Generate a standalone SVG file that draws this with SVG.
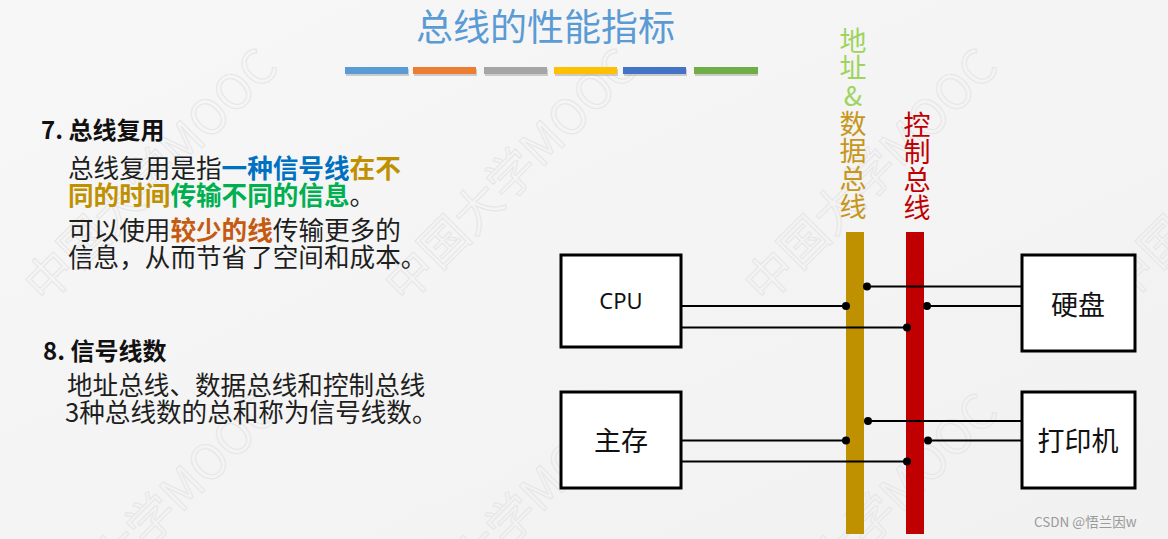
<svg xmlns="http://www.w3.org/2000/svg" width="1168" height="539" viewBox="0 0 1168 539">
<defs>
<linearGradient id="bg" x1="0" y1="0" x2="1" y2="1">
<stop offset="0" stop-color="#f7f7f7"/>
<stop offset="1" stop-color="#f1f1f1"/>
</linearGradient>
</defs>
<style>
.cjk{font-family:"Noto Sans CJK SC","Noto Sans",sans-serif;}
.wm{font-family:"Noto Sans CJK SC","Noto Sans",sans-serif;font-size:48px;fill:none;stroke:#e7e7e7;stroke-width:1.1;}
.body{font-size:25.6px;fill:#1e1e1e;}
.b{font-weight:bold;}
.box{fill:#ffffff;stroke:#000;stroke-width:3;}
.wire{stroke:#000;stroke-width:1.8;fill:none;}
.dot{fill:#000;}
.lbl{font-size:27px;fill:#111;text-anchor:middle;}
.vt{font-size:27px;writing-mode:vertical-rl;text-orientation:upright;letter-spacing:0.6px;}
</style>
<rect width="1168" height="539" fill="url(#bg)"/>
<g id="watermarks">
<text class="wm" transform="translate(45,305) rotate(-45)">中国大学MOOC</text>
<text class="wm" transform="translate(405,305) rotate(-45)">中国大学MOOC</text>
<text class="wm" transform="translate(765,305) rotate(-45)">中国大学MOOC</text>
<text class="wm" transform="translate(1125,305) rotate(-45)">中国大学MOOC</text>
<text class="wm" transform="translate(45,650) rotate(-45)">中国大学MOOC</text>
<text class="wm" transform="translate(405,650) rotate(-45)">中国大学MOOC</text>
<text class="wm" transform="translate(765,650) rotate(-45)">中国大学MOOC</text>
</g>
<g id="title">
<text class="cjk" x="545.5" y="41" font-size="37" fill="#5b9bd5" text-anchor="middle">总线的性能指标</text>
<g fill="#9a9a9a" opacity="0.45">
<rect x="346" y="69" width="63" height="7"/><rect x="414" y="69" width="63" height="7"/><rect x="485" y="69" width="63" height="7"/><rect x="555" y="69" width="63" height="7"/><rect x="624" y="69" width="63" height="7"/><rect x="695" y="69" width="63" height="7"/>
</g>
<rect x="345" y="67" width="63" height="7" fill="#5b9bd5"/>
<rect x="413" y="67" width="63" height="7" fill="#ed7d31"/>
<rect x="484" y="67" width="63" height="7" fill="#a5a5a5"/>
<rect x="554" y="67" width="63" height="7" fill="#ffc000"/>
<rect x="623" y="67" width="63" height="7" fill="#4472c4"/>
<rect x="694" y="67" width="64" height="7" fill="#70ad47"/>
</g>
<g id="section7" class="cjk">
<text x="41" y="139" font-size="24" font-weight="bold" fill="#111">7. 总线复用</text>
<text class="body" x="68" y="178">总线复用是指<tspan class="b" fill="#0070c0">一种信号线</tspan><tspan class="b" fill="#bf9000">在不</tspan></text>
<text class="body" x="68" y="205"><tspan class="b" fill="#bf9000">同的时间</tspan><tspan class="b" fill="#00b050">传输不同的信息</tspan>。</text>
<text class="body" x="68" y="240">可以使用<tspan class="b" fill="#c55a11">较少的线</tspan>传输更多的</text>
<text class="body" x="68" y="267">信息，从而节省了空间和成本。</text>
</g>
<g id="section8" class="cjk">
<text x="43" y="360" font-size="24" font-weight="bold" fill="#111">8. 信号线数</text>
<text class="body" x="67" y="395" font-size="25.4">地址总线、数据总线和控制总线</text>
<text class="body" x="65" y="422" font-size="25.4">3种总线数的总和称为信号线数。</text>
</g>
<g id="bus-labels" class="cjk">
<text class="vt" x="853" y="27"><tspan fill="#9ed35e">地址&amp;</tspan><tspan fill="#c7961a">数据总线</tspan></text>
<text class="vt" x="917" y="111" fill="#c00000">控制总线</text>
</g>
<g id="addr-data-bus"><rect x="846" y="232" width="18" height="302" fill="#bf9000"/></g>
<g id="control-bus"><rect x="906" y="232" width="18" height="302" fill="#c00000"/></g>
<g id="connectors">
<line class="wire" x1="681" y1="306" x2="846" y2="306"/>
<line class="wire" x1="681" y1="327.5" x2="907" y2="327.5"/>
<line class="wire" x1="867" y1="286.5" x2="1022" y2="286.5"/>
<line class="wire" x1="927" y1="306" x2="1022" y2="306"/>
<line class="wire" x1="681" y1="440.5" x2="846" y2="440.5"/>
<line class="wire" x1="681" y1="461.5" x2="907" y2="461.5"/>
<line class="wire" x1="868" y1="421" x2="1022" y2="421"/>
<line class="wire" x1="928" y1="440.5" x2="1022" y2="440.5"/>
<circle class="dot" cx="846" cy="306" r="4"/>
<circle class="dot" cx="907" cy="327.5" r="4"/>
<circle class="dot" cx="867" cy="286.5" r="4"/>
<circle class="dot" cx="927" cy="306" r="4"/>
<circle class="dot" cx="846" cy="440.5" r="4"/>
<circle class="dot" cx="907" cy="461.5" r="4"/>
<circle class="dot" cx="868" cy="421" r="4"/>
<circle class="dot" cx="928" cy="440.5" r="4"/>
</g>
<g id="cpu">
<rect class="box" x="561" y="255" width="120" height="92"/>
<text x="621" y="308.5" font-family="'Noto Sans','Liberation Sans',sans-serif" font-size="22" fill="#111" text-anchor="middle">CPU</text>
</g>
<g id="memory">
<rect class="box" x="561" y="392" width="120" height="96"/>
<text class="cjk lbl" x="621" y="451">主存</text>
</g>
<g id="disk">
<rect class="box" x="1022" y="255" width="113" height="96"/>
<text class="cjk lbl" x="1078" y="315">硬盘</text>
</g>
<g id="printer">
<rect class="box" x="1022" y="392" width="113" height="96"/>
<text class="cjk lbl" x="1078" y="451">打印机</text>
</g>
<text class="cjk" x="1034" y="527" font-size="13.5" fill="#9a9a9a">CSDN @悟兰因w</text>
</svg>
